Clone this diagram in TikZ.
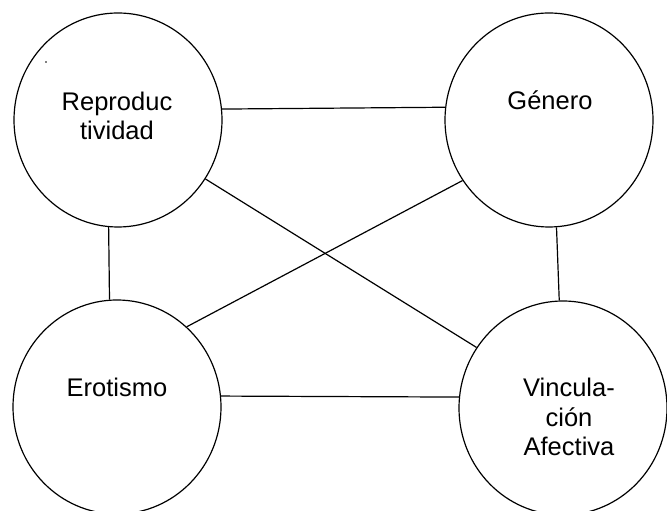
\documentclass[tikz,border=0pt]{standalone}
\usepackage{fontspec}
\setmainfont{Liberation Sans}
\usetikzlibrary{shapes.geometric}
\begin{document}
\begin{tikzpicture}[x=1pt,y=1pt,
  bubble/.style={draw=black,line width=1.2pt,ellipse,minimum width=208pt,minimum height=214pt,inner sep=0pt},
  link/.style={draw=black,line width=1.2pt},
  lbl/.style={font=\fontsize{25.5}{29.5}\selectfont,align=center,anchor=base,inner sep=0pt}]
\useasboundingbox (0,0) rectangle (667,511);
\node[bubble] (rep) at (118,391) {};
\node[bubble] (gen) at (549,391) {};
\node[bubble] (ero) at (117,104) {};
\node[bubble] (vin) at (563,103) {};
\node[lbl] (trep) at (117,371) {Reproduc\\tividad};
\node[lbl] (tgen) at (550,401) {Género};
\node[lbl] (tero) at (117,114) {Erotismo};
\node[lbl] (tvin) at (569,55) {Vincula-\\ción\\Afectiva};
\fill (46,449) circle (0.9pt) coordinate (dot);
\draw[link] (rep.6.4) -- (gen.173.6);
\draw[link] (ero.6) -- (vin.174);
\draw[link] (rep.265.2) -- (ero.94.8);
\draw[link] (gen.274.8) -- (vin.92.7);
\draw[link] (rep.-34.6) -- (vin.145.2);
\draw[link] (ero.49) -- (gen.215.5);
\end{tikzpicture}
\end{document}
